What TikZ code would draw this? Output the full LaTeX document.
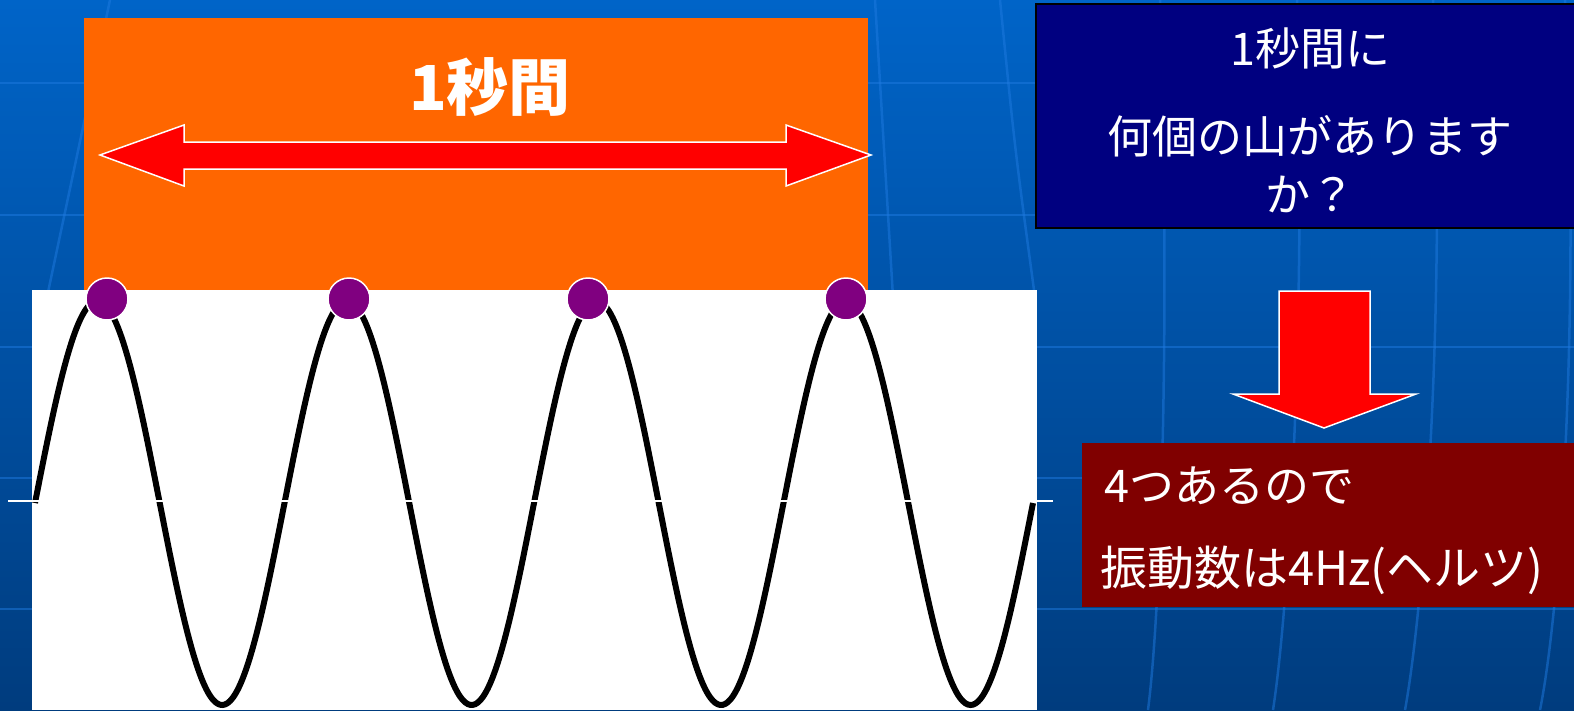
\documentclass[tikz,border=0pt]{standalone}
\usepackage{fontspec}
\newfontfamily\jpfont{Noto Sans CJK JP}
\definecolor{bgtop}{HTML}{0064C8}
\definecolor{bgbottom}{HTML}{003C7E}
\definecolor{gridblue}{HTML}{1F7AE0}
\definecolor{boxorange}{HTML}{FF6600}
\definecolor{boxnavy}{HTML}{000080}
\definecolor{boxmaroon}{HTML}{800000}
\definecolor{dotpurple}{HTML}{800080}
\tikzset{
  gridline/.style={draw=gridblue, line width=2.5pt, opacity=0.5},
  peakdot/.style={circle, fill=dotpurple, draw=white, line width=1.5pt, minimum size=42pt, inner sep=0pt},
  blockarrow/.style={fill=red, draw=white, line width=1.5pt},
  jptext/.style={text=white, inner sep=0pt, font=\jpfont\fontsize{45}{58}\selectfont},
}
\begin{document}
\begin{tikzpicture}[x=1pt,y=-1pt]
        \useasboundingbox (0,0) rectangle (1574,710);
        \clip (0,0) rectangle (1574,710);
        \shade [top color=bgtop, bottom color=bgbottom] (0,0) rectangle (1574,710);
        \foreach \y in {83,215,347,478,609}
            \draw [gridline] (0,\y) -- (1574,\y);
        \draw [gridline] (110,0) -- (40,330);
        \draw [gridline] (875,0) -- (895,330);
        \draw [gridline] (1000,0) .. controls (1015,150) .. (1034,290);
        \draw [gridline] (1160,0) .. controls (1170,300) and (1162,600) .. (1148,710);
        \draw [gridline] (1297,0) .. controls (1306,300) and (1290,600) .. (1273,710);
        \draw [gridline] (1433,0) .. controls (1446,300) and (1425,600) .. (1405,710);
        \draw [gridline] (1565,0) .. controls (1580,300) and (1562,600) .. (1540,710);

        \fill [boxorange] (84,18) rectangle (868,290);
        \fill [white] (32,290) rectangle (1037,710);
        \draw [line width=6pt] plot[domain=0:1440, samples=400, smooth] ({35+\x/360*249.5},{503-202*sin(\x)});
        \draw [white, line width=1.5pt] (8,501) -- (1053,501);
        \foreach \n/\x in {1/107,2/349,3/588,4/846}
            \node [peakdot] (peak\n) at (\x,299) {};

        \draw [blockarrow] (100,155) -- (184,125) -- (184,142) -- (786,142) -- (786,125) -- (871,155)
            -- (786,186) -- (786,169) -- (184,169) -- (184,186) -- cycle;
        \node [jptext, font=\jpfont\bfseries\fontsize{62}{70}\selectfont] (onesec) at (490,87) {1秒間};

        \draw [fill=boxnavy, draw=black, line width=2pt] (1036,4) rectangle (1590,228);
        \node [jptext] (question) at (1310,48) {1秒間に};
        \node [jptext, align=center] (howmany) at (1310,164) {何個の山があります\\か？};

        \draw [blockarrow] (1279,291) -- (1370,291) -- (1370,394) -- (1416,394) -- (1324,428)
            -- (1233,394) -- (1279,394) -- cycle;

        \fill [boxmaroon] (1082,443) rectangle (1590,607);
        \node [jptext, anchor=west] (four) at (1104,486) {4つあるので};
        \node [jptext, anchor=west, font=\jpfont\fontsize{47}{56}\selectfont] (answer) at (1100,570) {振動数は4Hz(ヘルツ)};
    \end{tikzpicture}
\end{document}
